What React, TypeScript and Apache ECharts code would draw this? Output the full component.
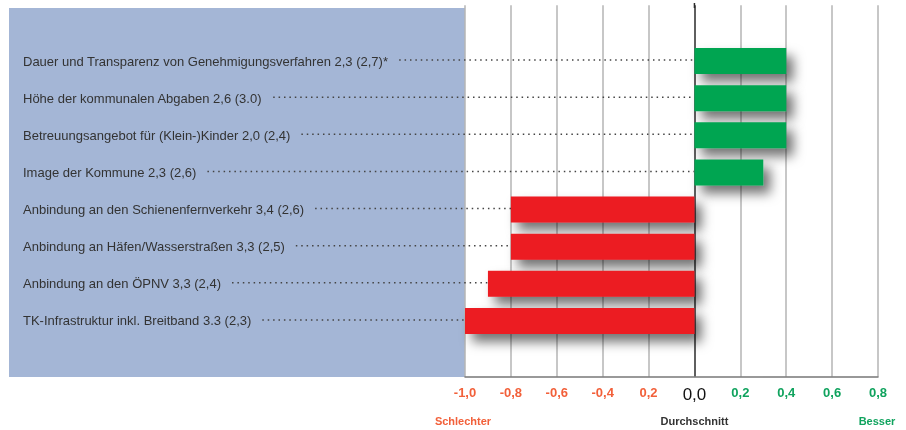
import React, { useEffect, useRef } from "react";
import * as echarts from "echarts";

const categories: string[] = [
  "Dauer und Transparenz von Genehmigungsverfahren 2,3 (2,7)*",
  "Höhe der kommunalen Abgaben 2,6 (3.0)",
  "Betreuungsangebot für (Klein-)Kinder 2,0 (2,4)",
  "Image der Kommune 2,3 (2,6)",
  "Anbindung an den Schienenfernverkehr 3,4 (2,6)",
  "Anbindung an Häfen/Wasserstraßen 3,3 (2,5)",
  "Anbindung an den ÖPNV 3,3 (2,4)",
  "TK-Infrastruktur inkl. Breitband 3.3 (2,3)",
];
const values: number[] = [0.4, 0.4, 0.4, 0.3, -0.8, -0.8, -0.9, -1.0];
const tickLabels: string[] = ["-1,0", "-0,8", "-0,6", "-0,4", "0,2", "0,0", "0,2", "0,4", "0,6", "0,8"];
const xMin = -1.0;
const xMax = 0.8;
const xStep = 0.2;

const LABEL_X = 23;
const GRID_LEFT = 465;
const FONT = "Liberation Sans, Arial, sans-serif";

export default function App() {
  const ref = useRef<HTMLDivElement>(null);
  useEffect(() => {
    if (!ref.current) return;
    const chart = echarts.init(ref.current, undefined, { renderer: "svg" });
    const canvas = document.createElement("canvas");
    const ctx = canvas.getContext("2d")!;
    ctx.font = "13px 'Liberation Sans', Arial, sans-serif";
    const widths = categories.map((c) => ctx.measureText(c).width);

    const yData = ["", ...categories, " "];
    const barData: any[] = ["-", ...values, "-"];
    const leaderData = categories.map((_, i) => [0, i + 1]);

    const splitColors = tickLabels.map((_, i) =>
      Math.abs(xMin + i * xStep) < 1e-9 ? "#2a2a2a" : "#b4b4b4"
    );

    const panel = {
      type: "rect",
      z: -10,
      shape: { x: 9, y: 8, width: GRID_LEFT - 9, height: 369 },
      style: { fill: "#a4b6d6" },
      silent: true,
    };

    chart.setOption({
      animation: false,
      graphic: [panel],
      grid: { left: GRID_LEFT, right: 28, top: 5.3, bottom: 53.3 },
      xAxis: {
        type: "value",
        min: xMin,
        max: xMax,
        interval: xStep,
        axisLine: { show: true, lineStyle: { color: "#777", width: 1.5 } },
        axisTick: { show: false },
        splitLine: { show: true, lineStyle: { color: splitColors, width: 1.5 } },
        axisLabel: {
          margin: 9,
          fontFamily: FONT,
          formatter: (v: number) => {
            const idx = Math.round((v - xMin) / xStep);
            const t = tickLabels[idx] ?? "";
            if (Math.abs(v) < 1e-9) return `{z|${t}}`;
            return v < 0 ? `{n|${t}}` : `{p|${t}}`;
          },
          rich: {
            n: { color: "#f2603a", fontWeight: "bold", fontSize: 13, fontFamily: FONT },
            z: { color: "#111", fontSize: 17, fontFamily: FONT },
            p: { color: "#10a35e", fontWeight: "bold", fontSize: 13, fontFamily: FONT },
          },
        },
      },
      yAxis: {
        type: "category",
        inverse: true,
        data: yData,
        axisLine: { show: false },
        axisTick: { show: false },
        splitLine: { show: false },
        axisLabel: {
          align: "left",
          margin: GRID_LEFT - LABEL_X,
          fontSize: 13,
          fontFamily: FONT,
          color: "#333",
          interval: 0,
        },
      },
      series: [
        {
          type: "custom",
          z: 1,
          silent: true,
          data: leaderData,
          renderItem: (params: any, api: any) => {
            const cat = api.value(1);
            const end = api.coord([0, cat]);
            const x0 = LABEL_X + widths[params.dataIndex] + 11;
            return {
              type: "line",
              shape: { x1: x0, y1: end[1] - 1, x2: end[0], y2: end[1] - 1 },
              style: { stroke: "#444", lineWidth: 1.5, lineDash: [1.5, 3.9] },
            };
          },
        },
        {
          type: "bar",
          z: 3,
          barWidth: 26,
          data: barData,
          itemStyle: {
            color: (p: any) => (p.value < 0 ? "#ec1c24" : "#00a551"),
            borderColor: "transparent",
            shadowBlur: 12,
            shadowColor: "rgba(0,0,0,0.55)",
            shadowOffsetX: 7,
            shadowOffsetY: 8,
          },
        },
      ],
    });

    const zx = chart.convertToPixel({ xAxisIndex: 0 }, 0) as number;
    const lx = chart.convertToPixel({ xAxisIndex: 0 }, xMin) as number;
    const rx = chart.convertToPixel({ xAxisIndex: 0 }, xMax) as number;
    chart.setOption({
      graphic: [
        panel,
        {
          type: "line",
          shape: { x1: zx, y1: 3, x2: zx, y2: 8 },
          style: { stroke: "#2a2a2a", lineWidth: 1.5 },
        },
        {
          type: "text",
          style: { text: "Schlechter", x: lx - 2, y: 421, align: "center", verticalAlign: "middle", fill: "#f2603a", font: `bold 11px ${FONT}` },
        },
        {
          type: "text",
          style: { text: "Durchschnitt", x: zx, y: 421, align: "center", verticalAlign: "middle", fill: "#333", font: `bold 11px ${FONT}` },
        },
        {
          type: "text",
          style: { text: "Besser", x: rx - 1, y: 421, align: "center", verticalAlign: "middle", fill: "#10a35e", font: `bold 11px ${FONT}` },
        },
      ],
    });

    return () => chart.dispose();
  }, []);
  return <div ref={ref} style={{ position: "fixed", left: 0, top: 0, width: 906, height: 430 }} />;
}
